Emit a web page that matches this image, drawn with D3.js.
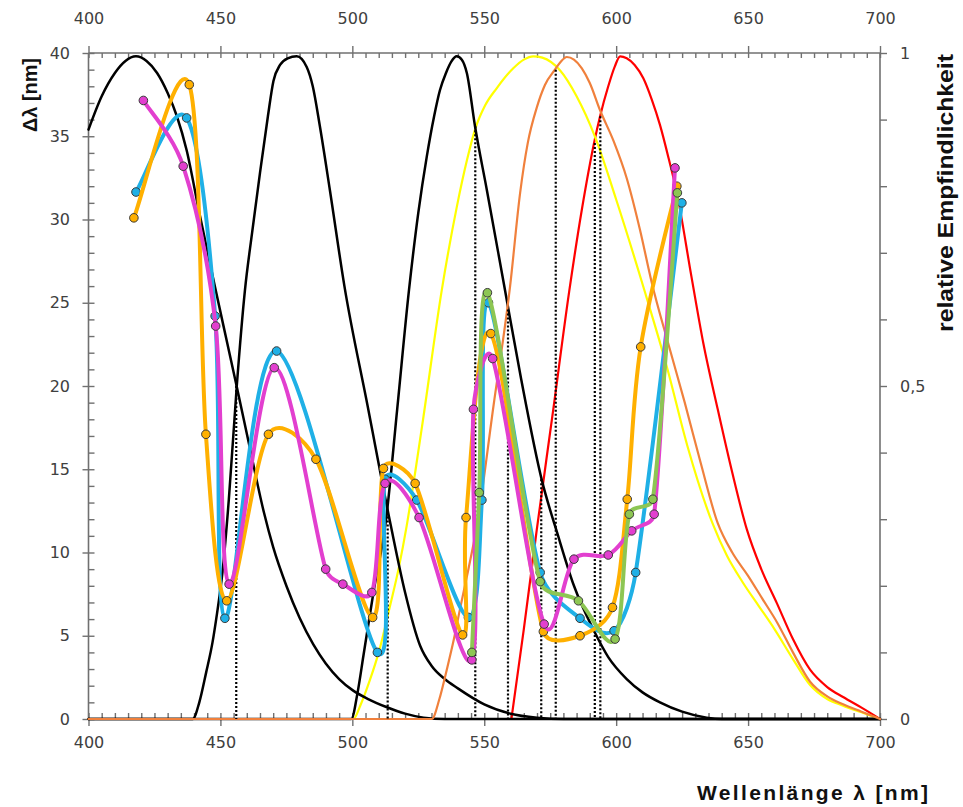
<!DOCTYPE html>
<html>
<head>
<meta charset="utf-8">
<script src="https://cdn.jsdelivr.net/npm/d3@7"></script>
<style>
  body { margin: 0; background: #fff; }
  svg { display: block; }
</style>
</head>
<body>
<svg id="chart" width="963" height="807"></svg>
<script>
// ---------- data ----------
// Wavelength ticks and value ticks
const xMajorTicks = [400, 450, 500, 550, 600, 650, 700];
const leftTicks = [0, 5, 10, 15, 20, 25, 30, 35, 40];
const rightTicks = [0, 0.5, 1];
const rightTickLabels = ["0", "0,5", "1"];

// Relative sensitivity curves [wavelength nm, relative sensitivity]
const sensBlack1 = [[400,0.885],[405,0.935],[410,0.97],[414,0.988],[418,0.995],[422,0.988],[426,0.97],[430,0.94],
  [433.5,0.905],[437.2,0.854],[442,0.76],[447.5,0.657],[452,0.575],[456.2,0.499],[461,0.41],[466.5,0.31],
  [470,0.258],[475.1,0.199],[480,0.152],[485.2,0.112],[490,0.083],[495,0.06],[500.2,0.043],[506,0.03],
  [512.9,0.018],[520,0.008],[527,0.002],[535,0],[700,0]];
const sensBlack2 = [[400,0],[439.5,0],[442,0.025],[444.6,0.07],[447,0.115],[448.4,0.15],[450.9,0.225],[453.2,0.33],
  [456.2,0.5],[459.3,0.644],[462,0.73],[465,0.82],[468,0.905],[470.1,0.958],[472.6,0.982],[475.5,0.992],
  [478.9,0.995],[482.7,0.979],[485,0.95],[487.7,0.89],[491.5,0.794],[497,0.65],[505.8,0.47],[514.6,0.29],
  [520,0.19],[525.7,0.11],[530,0.08],[535,0.06],[540,0.046],[550,0.022],[560,0.008],[570,0.002],[580,0],[700,0]];
const sensBlack3 = [[400,0],[499.6,0],[502,0.04],[504.2,0.095],[508,0.19],[512.8,0.3],[517,0.465],[521.5,0.645],
  [525,0.76],[528.2,0.844],[531,0.905],[533.2,0.944],[535.5,0.97],[537.5,0.987],[539.6,0.995],[541.5,0.99],
  [543.4,0.97],[546.5,0.89],[551,0.794],[557.5,0.652],[564,0.51],[571.8,0.359],[578,0.275],[584,0.2],
  [591.4,0.134],[597,0.093],[604,0.06],[610,0.04],[616.6,0.025],[625,0.011],[634.3,0.002],[640,0],[700,0]];
const sensYellow = [[400,0],[500.4,0],[503,0.02],[506.7,0.059],[510,0.1],[514.3,0.17],[517.5,0.225],[520.6,0.29],
  [524,0.375],[527,0.455],[533.9,0.644],[539.6,0.769],[543.5,0.84],[546.5,0.885],[550.3,0.921],[554.7,0.947],
  [561,0.977],[565,0.99],[568.6,0.995],[572,0.993],[578.7,0.974],[585,0.935],[592,0.874],[600,0.78],
  [610.3,0.649],[619.2,0.529],[627,0.41],[636.5,0.294],[642,0.245],[648,0.205],[654,0.17],[660,0.135],
  [667,0.09],[673.5,0.051],[680,0.03],[686,0.02],[693,0.01],[700,0]];
const sensOrange = [[400,0],[530.1,0],[533,0.03],[535.8,0.074],[538.5,0.12],[540.8,0.165],[544,0.225],[547.2,0.29],
  [553.5,0.47],[559.8,0.65],[563.6,0.79],[566.5,0.865],[569.9,0.918],[573,0.952],[576.8,0.975],[579,0.987],
  [581.3,0.994],[584,0.99],[587,0.977],[590,0.955],[593.9,0.914],[599,0.868],[604,0.812],[609,0.735],
  [613.5,0.655],[620,0.56],[626,0.475],[632,0.385],[638.5,0.294],[644,0.25],[650,0.215],[655.5,0.18],
  [661,0.145],[667,0.1],[673.5,0.056],[680,0.034],[686,0.022],[693,0.011],[700,0]];
const sensRed = [[560.3,0],[565,0.135],[569.9,0.284],[576,0.46],[582.2,0.642],[587,0.765],[592,0.872],[593.9,0.905],
  [597,0.95],[599.5,0.98],[601.5,0.995],[604,0.992],[607,0.982],[610.3,0.962],[613.5,0.93],[616.6,0.892],
  [620,0.84],[623,0.79],[628.5,0.665],[633,0.565],[638.5,0.465],[644,0.37],[649.5,0.285],[655,0.225],
  [660.9,0.174],[667,0.12],[673.5,0.074],[680,0.048],[686,0.033],[693,0.017],[700,0]];

// Crossing points of neighbouring sensitivity curves (wavelength, height)
const crossWl = [456.0, 513.4, 546.6, 559.0, 571.6, 577.1, 591.9, 594.0];
const crossVal = [0.50, 0.31, 0.89, 0.615, 0.36, 0.975, 0.865, 0.905];

// Wavelength discrimination Δλ [wavelength nm, Δλ nm]
const dlCyan = [[418.0,31.65],[437.2,36.1],[448.0,24.2],[451.7,6.05],[471.3,22.1],[509.5,4.0],[512.4,14.4],
  [524.4,13.15],[544.0,6.1],[549.1,13.15],[551.6,25.0],[571.2,8.8],[586.3,6.05],[599.2,5.3],[607.4,8.8],[624.9,31.0]];
const dlOrange = [[417.2,30.1],[438.2,38.1],[444.5,17.1],[452.4,7.1],[468.2,17.1],[486.2,15.6],[507.7,6.1],
  [511.8,15.05],[523.8,14.15],[541.8,5.05],[543.1,12.1],[552.5,23.15],[572.4,5.25],[586.3,5.0],[598.6,6.7],
  [604.2,13.2],[609.3,22.35],[623.0,32.0]];
const dlMagenta = [[420.8,37.15],[435.9,33.2],[448.2,23.6],[453.3,8.1],[470.4,21.1],[489.9,9.0],[496.4,8.1],
  [507.4,7.6],[512.4,14.15],[525.3,12.1],[545.3,3.55],[545.9,18.6],[553.2,21.65],[572.7,5.7],[584.0,9.6],
  [597.0,9.85],[605.9,11.3],[614.4,12.3],[622.3,33.1]];
const dlGreen = [[545.3,4.0],[548.1,13.6],[551.2,25.6],[571.2,8.25],[585.7,7.1],[599.6,4.8],[605.0,12.3],
  [613.9,13.2],[623.2,31.6]];

// ---------- smoothing curve ----------
// Bezier spline through every point: tangent from the two neighbours (handles = tangent / 6),
// each handle limited to a share of its own segment so short segments do not loop or dip.
function curveSpreadsheet(context) {
  let pts = [];
  return {
    areaStart() {}, areaEnd() {},
    lineStart() { pts = []; },
    point(px, py) { pts.push([+px, +py]); },
    lineEnd() {
      const n = pts.length;
      if (!n) return;
      context.moveTo(pts[0][0], pts[0][1]);
      if (n === 1) return;
      const dist = (a, b) => Math.hypot(b[0] - a[0], b[1] - a[1]);
      const tan = i => {
        const a = pts[Math.max(i - 1, 0)], b = pts[Math.min(i + 1, n - 1)];
        return [(b[0] - a[0]) / 6, (b[1] - a[1]) / 6];
      };
      const clamp = (t, maxLen) => {
        const l = Math.hypot(t[0], t[1]);
        return l > maxLen && l > 0 ? [t[0] * maxLen / l, t[1] * maxLen / l] : t;
      };
      for (let i = 0; i < n - 1; i++) {
        const p0 = pts[i], p1 = pts[i + 1];
        const seg = dist(p0, p1);
        const h0 = clamp(tan(i), seg * 0.4);
        const h1 = clamp(tan(i + 1), seg * 0.4);
        context.bezierCurveTo(
          p0[0] + h0[0], p0[1] + h0[1],
          p1[0] - h1[0], p1[1] - h1[1],
          p1[0], p1[1]);
      }
    }
  };
}

// ---------- layout ----------
const svg = d3.select("#chart");
const X0 = 88.5, X1 = 880, Y0 = 719, Y1 = 53;
const x = d3.scaleLinear().domain([400, 700]).range([X0, X1]);
const yL = d3.scaleLinear().domain([0, 40]).range([Y0, Y1]);
const yR = d3.scaleLinear().domain([0, 1]).range([Y0, Y1]);

const tickFont = "DejaVu Sans, Verdana, sans-serif";
const tickColor = "#404040";
const axisColor = "#707070";

function styleAxis(g, showText) {
  g.select(".domain").remove();
  g.selectAll(".tick line").attr("stroke", axisColor).attr("stroke-width", 1.4);
  g.selectAll(".tick text")
    .attr("font-family", tickFont).attr("font-size", 16).attr("fill", tickColor);
  if (!showText) g.selectAll(".tick text").remove();
}

// minor ticks (inward)
svg.append("g").attr("transform", `translate(0,${Y0})`)
  .call(d3.axisBottom(x).tickValues(d3.range(400, 701, 5)).tickSize(-6).tickFormat(""))
  .call(g => styleAxis(g, false));
svg.append("g").attr("transform", `translate(0,${Y1})`)
  .call(d3.axisTop(x).tickValues(d3.range(400, 701, 5)).tickSize(-5).tickFormat(""))
  .call(g => styleAxis(g, false));
svg.append("g").attr("transform", `translate(${X0},0)`)
  .call(d3.axisLeft(yL).tickValues(d3.range(0, 41, 1)).tickSize(-6).tickFormat(""))
  .call(g => styleAxis(g, false));

// major ticks with labels (outward)
svg.append("g").attr("transform", `translate(0,${Y0})`)
  .call(d3.axisBottom(x).tickValues(xMajorTicks).tickSize(7).tickPadding(10.5).tickFormat(d3.format("d")))
  .call(g => styleAxis(g, true));
svg.append("g").attr("transform", `translate(0,${Y1})`)
  .call(d3.axisTop(x).tickValues(xMajorTicks).tickSize(7).tickPadding(22).tickFormat(d3.format("d")))
  .call(g => styleAxis(g, true));
svg.append("g").attr("transform", `translate(${X0},0)`)
  .call(d3.axisLeft(yL).tickValues(leftTicks).tickSize(6).tickPadding(12.5).tickFormat(d3.format("d")))
  .call(g => styleAxis(g, true));
svg.append("g").attr("transform", `translate(${X1},0)`)
  .call(d3.axisRight(yR).tickValues(d3.range(0, 11).map(i => i / 10)).tickSize(7).tickPadding(13)
    .tickFormat(d => { const i = rightTicks.findIndex(v => Math.abs(v - d) < 1e-9); return i >= 0 ? rightTickLabels[i] : ""; }))
  .call(g => styleAxis(g, true));

// axis lines
svg.append("line").attr("x1", X0).attr("x2", X0).attr("y1", Y1).attr("y2", Y0).attr("stroke", axisColor).attr("stroke-width", 1.6);
svg.append("line").attr("x1", X1).attr("x2", X1).attr("y1", Y1).attr("y2", Y0).attr("stroke", axisColor).attr("stroke-width", 1.6);
svg.append("line").attr("x1", X0).attr("x2", X1).attr("y1", Y1).attr("y2", Y1).attr("stroke", axisColor).attr("stroke-width", 1.6);
svg.append("line").attr("x1", X0).attr("x2", X1).attr("y1", Y0).attr("y2", Y0).attr("stroke", "#222").attr("stroke-width", 2);

// ---------- sensitivity curves ----------
const sensLine = d3.line().x(d => x(d[0])).y(d => yR(d[1])).curve(d3.curveMonotoneX);
const plot = svg.append("g");

const sensSeries = [
  { data: sensRed, color: "#FF0000", width: 2.2 },
  { data: sensYellow, color: "#FFFF00", width: 2.2 },
  { data: sensBlack1, color: "#000000", width: 2.5 },
  { data: sensBlack2, color: "#000000", width: 2.5 },
  { data: sensBlack3, color: "#000000", width: 2.5 },
  { data: sensOrange, color: "#F0803C", width: 2.2 }
];
sensSeries.forEach(s => {
  plot.append("path").datum(s.data)
    .attr("d", sensLine).attr("fill", "none")
    .attr("stroke", s.color).attr("stroke-width", s.width)
    .attr("stroke-linejoin", "round").attr("stroke-linecap", "round");
});

// dotted drop lines from curve crossings
plot.selectAll("line.cross").data(crossWl).join("line")
  .attr("class", "cross")
  .attr("x1", d => x(d)).attr("x2", d => x(d))
  .attr("y1", (d, i) => yR(crossVal[i])).attr("y2", yR(0))
  .attr("stroke", "#000").attr("stroke-width", 2.2).attr("stroke-dasharray", "2,2");

// ---------- Δλ series ----------
const dlLine = d3.line().x(d => x(d[0])).y(d => yL(d[1])).curve(curveSpreadsheet);
const dlSeries = [
  { data: dlCyan, color: "#1FB0E6" },
  { data: dlOrange, color: "#FFB000" },
  { data: dlMagenta, color: "#E23FCF" },
  { data: dlGreen, color: "#8DC653" }
];
dlSeries.forEach(s => {
  const g = plot.append("g");
  g.append("path").datum(s.data)
    .attr("d", dlLine).attr("fill", "none")
    .attr("stroke", s.color).attr("stroke-width", 4)
    .attr("stroke-linejoin", "round").attr("stroke-linecap", "round");
  g.selectAll("circle").data(s.data).join("circle")
    .attr("cx", d => x(d[0])).attr("cy", d => yL(d[1])).attr("r", 4.3)
    .attr("fill", s.color).attr("stroke", "#3a3a3a").attr("stroke-width", 1);
});

// ---------- axis titles ----------
const titleFont = "Liberation Sans, Arial, sans-serif";
svg.append("text")
  .attr("transform", "translate(37,95) rotate(-90)")
  .attr("text-anchor", "middle")
  .attr("font-family", titleFont).attr("font-weight", "bold").attr("font-size", 21)
  .attr("textLength", 74).attr("lengthAdjust", "spacingAndGlyphs")
  .attr("fill", "#111").text("Δλ [nm]");
svg.append("text")
  .attr("transform", "translate(953,193) rotate(-90)")
  .attr("text-anchor", "middle")
  .attr("font-family", titleFont).attr("font-weight", "bold").attr("font-size", 22)
  .attr("textLength", 278).attr("lengthAdjust", "spacingAndGlyphs")
  .attr("fill", "#111").text("relative Empfindlichkeit");
svg.append("text")
  .attr("x", 697).attr("y", 800)
  .attr("font-family", titleFont).attr("font-weight", "bold").attr("font-size", 21)
  .attr("textLength", 231).attr("lengthAdjust", "spacing")
  .attr("fill", "#111").text("Wellenlänge λ [nm]");
</script>
</body>
</html>
